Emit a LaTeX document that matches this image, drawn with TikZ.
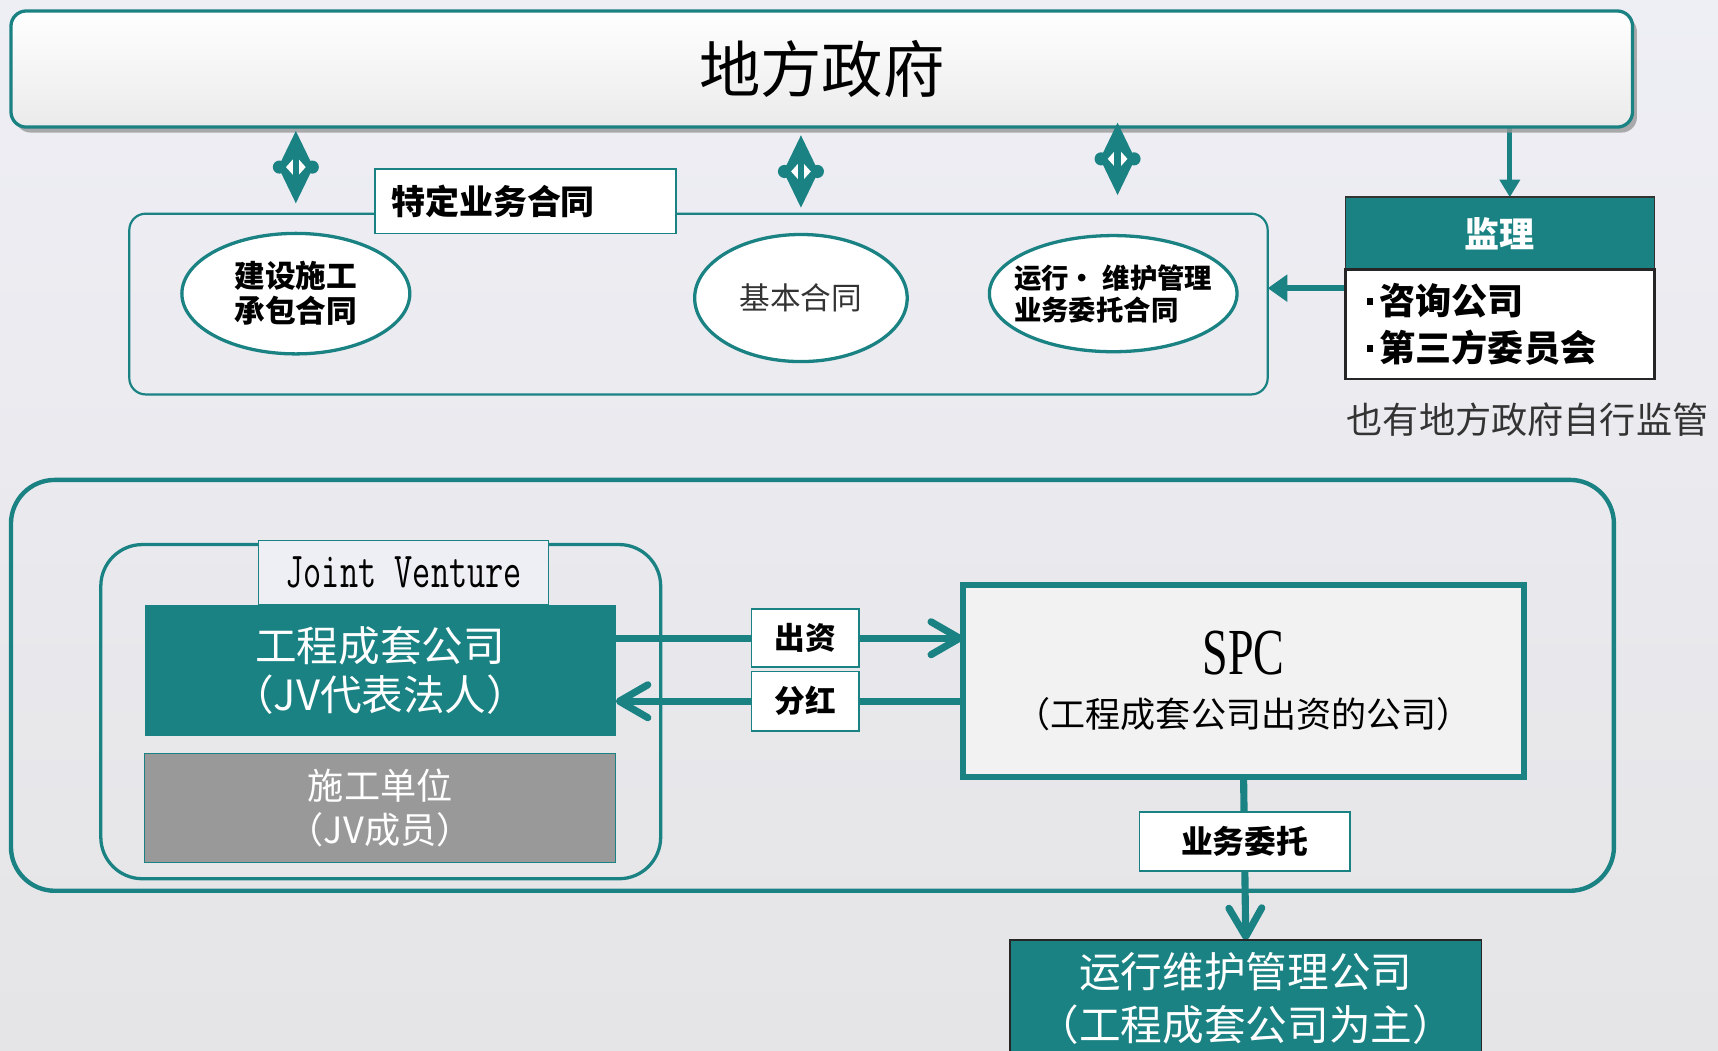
\documentclass[tikz,border=0pt]{standalone}
\usepackage{graphicx}
\usepackage{fontspec}
\setmainfont{Noto Sans CJK SC}
\newfontfamily\serifl{Liberation Serif}
\usetikzlibrary{arrows.meta,shapes.geometric,shadows,calc}
\definecolor{tl}{RGB}{26,130,131}
\definecolor{bgtop}{RGB}{238,238,245}
\definecolor{bgbot}{RGB}{229,229,231}
\pgfdeclarelayer{bg}\pgfdeclarelayer{conn}\pgfsetlayers{bg,conn,main}
\newcommand\fs[2]{\fontsize{#1}{#2}\selectfont}
\newcommand\bul{\rule[9pt]{5pt}{6pt}\hspace{6pt}}
\tikzset{
  dbl/.pic={
    \fill[tl] (0,-33) -- (15,-2) -- (15,2) -- (0,33) -- (-15,2) -- (-15,-2) -- cycle;
    \fill[tl] (-15,0) circle (6pt);
    \fill[tl] (15,0) circle (6pt);
    \fill[white] (0,-10) -- (9,0) -- (0,10) -- (-9,0) -- cycle;
    \fill[tl] (-3,-11) rectangle (3,11);
  },
  boxn/.style={rectangle,inner sep=0pt,outer sep=0pt},
  ell/.style={ellipse,fill=white,draw=tl,line width=3pt,inner sep=0pt,align=center},
  tri/.style={-{Triangle[length=16pt,width=18pt]},line width=4.5pt,draw=tl},
  trib/.style={-{Triangle[length=18pt,width=24pt]},line width=6pt,draw=tl},
  barb/.style={-{Straight Barb[length=26pt,width=30pt,round]},line width=6.5pt,draw=tl},
}
\begin{document}
\begin{tikzpicture}[x=1pt,y=-1pt]
\useasboundingbox (0,0) rectangle (1568,959);
\begin{pgfonlayer}{bg}
\shade[top color=bgtop,bottom color=bgbot] (0,0) rectangle (1568,959);
\end{pgfonlayer}

% top box
\node[boxn,rounded corners=14pt,draw=tl,line width=3pt,top color=white,bottom color=black!8,
  minimum width=1480pt,minimum height=106pt,font=\fs{56}{60},
  drop shadow={shadow xshift=4pt,shadow yshift=-5pt,fill=black!40,opacity=0.8}]
  (gov) at (750,63) {地方政府};

% contracts frame
\node[boxn,rounded corners=15pt,draw=tl,line width=2pt,minimum width=1039pt,minimum height=165pt] (cframe) at (637.5,277.5) {};
\node[boxn,fill=white,draw=tl,line width=1.5pt,minimum width=275pt,minimum height=59pt,
  text width=245pt,inner xsep=15pt,align=left,font=\fs{31}{36}\bfseries] (tlabel) at (479.5,183.5) {特定业务合同};

\node[ell,minimum width=208pt,minimum height=110pt,font=\fs{28}{32}\bfseries] (e1) at (270,268) {建设施工\\承包合同};
\node[ell,minimum width=194pt,minimum height=116pt,text=black!80,font=\fs{28}{32}] (e2) at (731,272) {基本合同};
\node[ell,minimum width=226pt,minimum height=106pt,
  label={[align=left,inner sep=0pt,font=\fs{25}{29}\bfseries]center:{运行· 维护管理\\业务委托合同}}] (e3) at (1016,268) {};

\pic at (270,152.5) {dbl};
\pic at (731,156.5) {dbl};
\pic at (1020,145) {dbl};

% supervision
\node[boxn,fill=tl,draw=black!80,line width=1.5pt,minimum width=282pt,minimum height=66pt,text=white,font=\fs{32}{36}\bfseries] (jlh) at (1369,213) {监理};
\node[boxn,fill=white,draw=black!85,line width=2pt,minimum width=282pt,minimum height=100pt,
  text width=242pt,inner xsep=20pt,align=left,font=\fs{33}{43}\bfseries] (jlb) at (1369,296) {\bul 咨询公司\\\bul 第三方委员会};
\node[anchor=west,inner sep=0pt,text=black!80,font=\fs{33}{36}] (note) at (1229,383) {也有地方政府自行监管};

% bottom part
\node[boxn,rounded corners=40pt,draw=tl,line width=4pt,minimum width=1463pt,minimum height=375pt] (big) at (741.5,625.5) {};
\node[boxn,rounded corners=38pt,draw=tl,line width=3pt,minimum width=511pt,minimum height=305pt] (jvf) at (347.5,649.5) {};
\node[boxn,fill=bgtop,draw=tl,line width=1pt,minimum width=265pt,minimum height=59pt,font=\ttfamily\fs{46}{50}] (jvl) at (368.5,522.5) {\scalebox{0.7}[1]{Joint Venture}};
\node[boxn,fill=tl,minimum width=430pt,minimum height=120pt,text=white,align=center,font=\fs{38}{45}] (gc) at (347,612) {工程成套公司\\（JV代表法人）};
\node[boxn,fill=black!40,draw=tl,line width=1pt,minimum width=430pt,minimum height=99pt,text=white,align=center,font=\fs{33}{40}] (sg) at (347,737.5) {施工单位\\（JV成员）};
\node[boxn,fill=black!5,draw=tl,line width=5pt,minimum width=512pt,minimum height=175pt,align=center,font=\fs{32}{40}] (spc) at (1135,621.5)
  {\serifl\fs{60}{56}\scalebox{0.7}[1]{SPC}\\[8pt]（工程成套公司出资的公司）};
\node[boxn,fill=white,draw=tl,line width=1.5pt,minimum width=98pt,minimum height=53pt,font=\fs{28}{30}\bfseries] (cz) at (735,582.5) {出资};
\node[boxn,fill=white,draw=tl,line width=1.5pt,minimum width=98pt,minimum height=54pt,font=\fs{28}{30}\bfseries] (fh) at (735,640) {分红};
\node[boxn,fill=white,draw=tl,line width=1.5pt,minimum width=192pt,minimum height=54pt,font=\fs{29}{32}\bfseries] (yw) at (1136,768) {业务委托};
\node[boxn,fill=tl,draw=black!85,line width=1.5pt,minimum width=430pt,minimum height=106pt,text=white,align=center,font=\fs{38}{48}] (yx) at (1137,911)
  {运行维护管理公司\\（工程成套公司为主）};

\begin{pgfonlayer}{conn}
\draw[tri] ([xshift=9pt]jlh.north |- gov.south) -- ([xshift=9pt]jlh.north);
\draw[trib] ([yshift=33pt]jlb.west) -- ([yshift=33pt]jlb.west -| cframe.east);
\draw[barb] (gc.east |- cz.center) -- (spc.west |- cz.center);
\draw[barb] (spc.west |- fh.center) -- (gc.east |- fh.center);
\draw[barb] (spc.south) -- (yx.north);
\end{pgfonlayer}
\end{tikzpicture}
\end{document}
